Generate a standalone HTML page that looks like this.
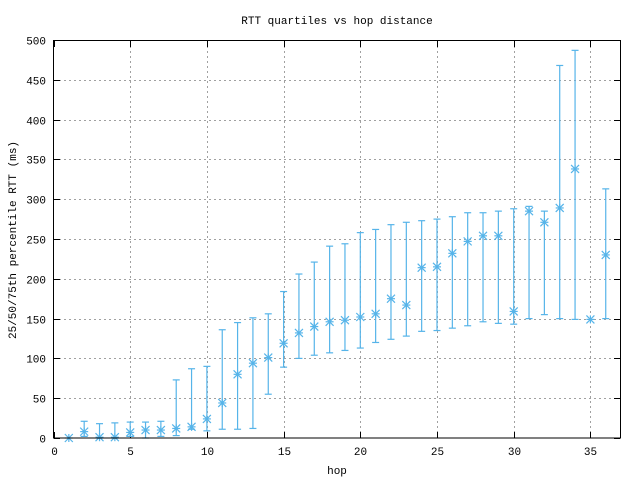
<!DOCTYPE html>
<html><head><meta charset="utf-8"><style>
html,body{margin:0;padding:0;background:#fff;}
svg{display:block;font-family:"Liberation Mono","DejaVu Sans Mono",monospace;font-size:11px;}
</style></head><body>
<svg id="s" width="640" height="480" xmlns="http://www.w3.org/2000/svg">
<rect width="640" height="480" fill="#fff"/>
<g id="grid" stroke="#a0a0a0" stroke-width="1" stroke-dasharray="2,3"></g>
<g id="ticks" stroke="#000" stroke-width="1"></g>
<g id="data" stroke="#56b4e9" stroke-width="1.2" fill="none"></g>
<rect x="53.5" y="40.5" width="567" height="397.5" fill="none" stroke="#000" stroke-width="1"/>
<g id="lab" fill="#000"></g>
<text x="337" y="24" text-anchor="middle">RTT quartiles vs hop distance</text>
<text x="337" y="474" text-anchor="middle">hop</text>
<text transform="translate(16,240) rotate(-90)" text-anchor="middle">25/50/75th percentile RTT (ms)</text>
</svg>
<script>
var NS="http://www.w3.org/2000/svg";
function X(h){return 53.5+15.34*h;}
function Y(v){return 438-0.796*v;}
function el(p,t,a,txt){var e=document.createElementNS(NS,t);for(var k in a)e.setAttribute(k,a[k]);if(txt!==undefined)e.textContent=txt;document.getElementById(p).appendChild(e);}
for(var v=0;v<=500;v+=50){var y=Math.round(Y(v))+0.5;
 if(v>0&&v<500)el("grid","line",{x1:54,x2:620,y1:y,y2:y});
 el("ticks","line",{x1:54,x2:60,y1:y,y2:y});el("ticks","line",{x1:614,x2:620,y1:y,y2:y});
 el("lab","text",{x:46,y:y+4,"text-anchor":"end"},v);}
for(var h=0;h<=35;h+=5){var x=Math.round(X(h))+0.5;
 if(h>0)el("grid","line",{x1:x,x2:x,y1:41,y2:437});
 el("ticks","line",{x1:x,x2:x,y1:432,y2:438});el("ticks","line",{x1:x,x2:x,y1:41,y2:47});
 el("lab","text",{x:x,y:455,"text-anchor":"middle"},h);}
var d=[[1,0],[2,8,2,21],[3,1,0,18],[4,1,0,19],[5,7,2,20],[6,10,0,20],[7,10,2,21],[8,12,3,73],[9,14,11,87],[10,24,9,90],[11,44,11,136],[12,80,11,145],[13,94,12,151],[14,101,55,156],[15,119,89,184],[16,132,100,206],[17,140,104,221],[18,146,107,241],[19,148,110,244],[20,152,113,258],[21,156,120,262],[22,175,124,268],[23,167,128,271],[24,214,134,273],[25,215,135,275],[26,232,138,278],[27,247,141,283],[28,254,146,283],[29,254,144,285],[30,159,143,288],[31,285,150,291],[32,271,155,285],[33,289,150,468],[34,338,149,487],[35,149],[36,230,150,313]];
d.forEach(function(r){var x=X(r[0]),y=Y(r[1]);
 if(r.length>2){var a=Y(r[2]),b=Y(r[3]);
  el("data","line",{x1:x,x2:x,y1:a,y2:b});
  el("data","line",{x1:x-3.5,x2:x+3.5,y1:a,y2:a});
  el("data","line",{x1:x-3.5,x2:x+3.5,y1:b,y2:b});}
 var s=4;
 el("data","line",{x1:x-s,x2:x+s,y1:y,y2:y});
 el("data","line",{x1:x,x2:x,y1:y-s,y2:y+s});
 el("data","line",{x1:x-s,x2:x+s,y1:y-s,y2:y+s});
 el("data","line",{x1:x-s,x2:x+s,y1:y+s,y2:y-s});});
</script>
</body></html>
